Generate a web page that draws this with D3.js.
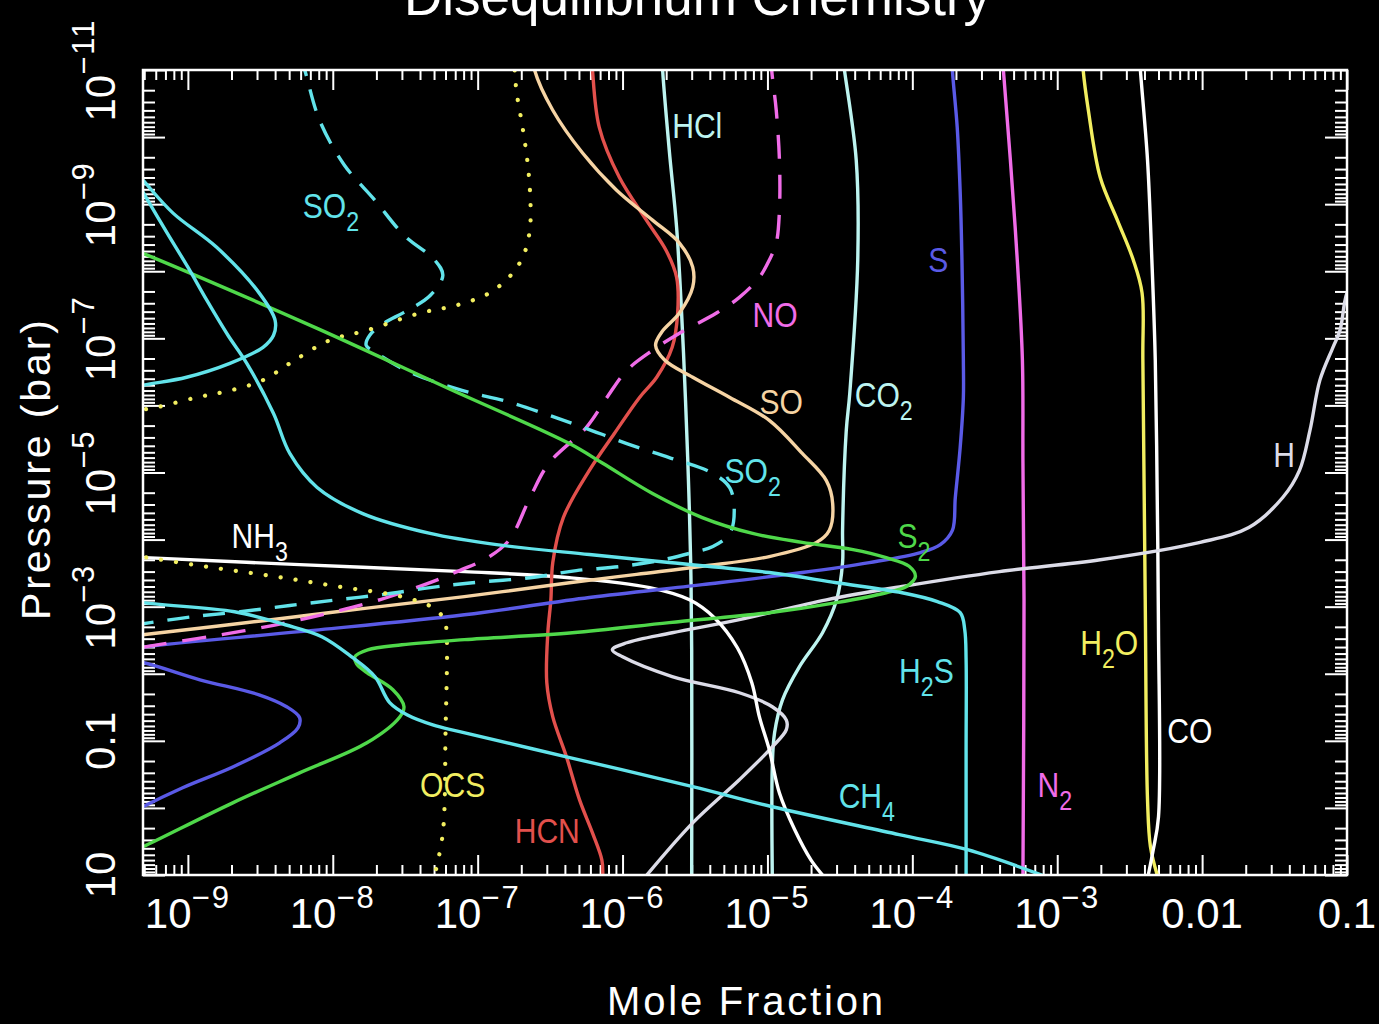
<!DOCTYPE html>
<html>
<head>
<meta charset="utf-8">
<title>Disequilibrium Chemistry</title>
<script src="https://cdn.jsdelivr.net/npm/d3@7"></script>
<style>
  html, body { margin: 0; padding: 0; background: #000; }
  #mydiv { width: 1379px; height: 1024px; }
</style>
</head>
<body>
<div id="mydiv"></div>
<script>
// each profile: [mole fraction, pressure (bar)], low pressure (top) first
var so2Dashed = [
  [5.9e-9, 6e-12], [6.4e-9, 1e-11], [8.1e-9, 5.6e-11], [1.2e-8, 2.6e-10], [1.95e-8, 8.7e-10],
  [3.1e-8, 2.9e-9], [5.05e-8, 6.8e-9], [5.75e-8, 1.15e-8], [4.7e-8, 2.3e-8], [3.1e-8, 4.1e-8],
  [2.3e-8, 5.8e-8], [1.8e-8, 9e-8], [1.7e-8, 1.27e-7], [1.95e-8, 1.6e-7], [3.4e-8, 3.2e-7],
  [7.9e-8, 6e-7], [1.58e-7, 8.7e-7], [3.1e-7, 1.4e-6], [5.3e-7, 2.1e-6], [1.07e-6, 3.7e-6],
  [2.1e-6, 6e-6], [4.2e-6, 1.03e-5], [5.5e-6, 1.7e-5], [5.9e-6, 3.7e-5], [5.5e-6, 8.1e-5],
  [4.2e-6, 1.27e-4], [3.05e-6, 1.56e-4], [1.9e-6, 2e-4], [1.0e-6, 2.5e-4], [4.8e-7, 2.9e-4],
  [2.3e-7, 3.7e-4], [9.2e-8, 4.4e-4], [4.7e-8, 5.2e-4], [2.2e-8, 6.6e-4], [1.07e-8, 7.9e-4],
  [5.05e-9, 9.6e-4], [2.3e-9, 1.19e-3], [1.08e-9, 1.41e-3], [5.5e-10, 1.73e-3], [3.4e-10, 2.06e-3]
];
var so2Solid = [
  [3.7e-10, 2.2e-10], [4.9e-10, 4.4e-10], [7.9e-10, 1.36e-9], [1.58e-9, 4.4e-9], [3.1e-9, 2.1e-8],
  [4e-9, 5.4e-8], [3.9e-9, 9e-8], [3.3e-9, 1.36e-7], [1.95e-9, 2.36e-7], [9.8e-10, 3.8e-7],
  [4.9e-10, 5e-7], [2.9e-10, 6.4e-7]
];
var h2s = [
  [4e-10, 3.1e-10], [4.9e-10, 6.6e-10], [7.2e-10, 2.7e-9], [1e-9, 8.7e-9], [1.35e-9, 2.7e-8],
  [1.89e-9, 9e-8], [2.55e-9, 2.36e-7], [3.9e-9, 1.32e-6], [5.05e-9, 5.2e-6], [7.8e-9, 1.67e-5],
  [1.61e-8, 4.1e-5], [4.7e-8, 8.1e-5], [1.35e-7, 1.19e-4], [5.9e-7, 1.67e-4], [2.1e-6, 2.2e-4],
  [1.03e-5, 3.1e-4], [3e-5, 4.4e-4], [8.5e-5, 6.2e-4], [1.49e-4, 8.4e-4], [2.14e-4, 1.23e-3],
  [2.3e-4, 2.2e-3], [2.35e-4, 6.2e-3], [2.35e-4, 0.14], [2.35e-4, 10]
];
var ch4 = [
  [2.9e-10, 7.1e-4], [4.9e-10, 8.7e-4], [2.1e-9, 1.19e-3], [4.7e-9, 1.86e-3], [8.4e-9, 2.8e-3],
  [1.35e-8, 5.6e-3], [1.95e-8, 1.1e-2], [2.47e-8, 2.7e-2], [3.25e-8, 4.1e-2], [4.9e-8, 5.8e-2],
  [7.5e-8, 7.3e-2], [4.1e-7, 0.173], [3.05e-6, 0.48], [1.08e-5, 0.96], [8.1e-5, 2.5],
  [2.4e-4, 4.2], [8e-4, 10.2]
];
var hcl = [
  [1.87e-6, 6e-12], [1.89e-6, 1e-11], [2.1e-6, 1.56e-10], [2.36e-6, 2.2e-9], [2.55e-6, 3.8e-8],
  [2.72e-6, 8.4e-7], [2.85e-6, 1.32e-5], [2.95e-6, 2e-4], [3e-6, 4.4e-3], [3e-6, 10]
];
var co2 = [
  [3.3e-5, 6e-12], [3.4e-5, 1e-11], [4.1e-5, 2.2e-10], [4.2e-5, 6.8e-9], [3.7e-5, 6.6e-7],
  [3.5e-5, 2.36e-6], [3.3e-5, 7.3e-5], [3.3e-5, 2.2e-4], [3e-5, 7.9e-4], [2.4e-5, 2.45e-3],
  [1.66e-5, 7.9e-3], [1.27e-5, 2.45e-2], [1.12e-5, 7.6e-2], [1.08e-5, 0.245], [1.08e-5, 10]
];
var hcn = [
  [6.1e-7, 6e-12], [6.2e-7, 1e-11], [6.9e-7, 7.1e-11], [9.5e-7, 3.98e-10], [1.46e-6, 1.73e-9],
  [2.0e-6, 4.9e-9], [2.36e-6, 1.23e-8], [2.4e-6, 4.2e-8], [2.2e-6, 1.36e-7], [1.72e-6, 3.8e-7],
  [1.31e-6, 7.6e-7], [8.8e-7, 2.6e-6], [5.9e-7, 9.3e-6], [3.9e-7, 4.7e-5], [3.3e-7, 2.2e-4],
  [3.2e-7, 7.9e-4], [3.05e-7, 2.45e-3], [3e-7, 1.36e-2], [3.3e-7, 4.4e-2], [4.1e-7, 0.173],
  [5.05e-7, 0.76], [6.2e-7, 2.36], [7.2e-7, 6.0], [7.3e-7, 10.2]
];
var so = [
  [2.4e-7, 6e-12], [2.47e-7, 1e-11], [3.3e-7, 3.98e-11], [5.3e-7, 1.73e-10], [9.1e-7, 6.2e-10],
  [1.61e-6, 1.73e-9], [2.47e-6, 3.8e-9], [3.05e-6, 8.7e-9], [3.05e-6, 1.73e-8], [2.47e-6, 4.2e-8],
  [1.86e-6, 8.1e-8], [1.69e-6, 1.27e-7], [1.95e-6, 2.1e-7], [3.05e-6, 3.8e-7], [5.5e-6, 7.6e-7],
  [1.03e-5, 1.67e-6], [1.74e-5, 5.2e-6], [2.55e-5, 1.32e-5], [2.82e-5, 2.9e-5], [2.67e-5, 7.3e-5],
  [2.18e-5, 1.1e-4], [1.03e-5, 1.79e-4], [3.55e-6, 2.5e-4], [1.25e-6, 3.3e-4], [4.3e-7, 4.4e-4],
  [8.1e-8, 7.1e-4], [1.61e-8, 1.07e-3], [3.3e-9, 1.62e-3], [5.05e-10, 2.6e-3], [2.9e-10, 3e-3]
];
var no = [
  [1.06e-5, 6e-12], [1.07e-5, 1e-11], [1.15e-5, 3.98e-11], [1.21e-5, 2.2e-10], [1.21e-5, 1.23e-9],
  [1.15e-5, 3.8e-9], [1.03e-5, 6.8e-9], [8.8e-6, 1.23e-8], [6.4e-6, 2.45e-8], [4.45e-6, 4.2e-8],
  [2.47e-6, 8.4e-8], [1.61e-6, 1.51e-7], [1.07e-6, 3e-7], [7.8e-7, 7.6e-7], [5.65e-7, 2.1e-6],
  [3.1e-7, 7.3e-6], [2.3e-7, 2.36e-5], [1.66e-7, 1e-4], [1.21e-7, 1.79e-4], [7.5e-8, 2.9e-4],
  [4.3e-8, 4.7e-4], [2.1e-8, 7.9e-4], [1.03e-8, 1.19e-3], [5.2e-9, 1.67e-3], [2.47e-9, 2.28e-3],
  [5.05e-10, 3.98e-3], [2.9e-10, 4.9e-3]
];
var s = [
  [1.88e-4, 6e-12], [1.89e-4, 1e-11], [2.04e-4, 7.1e-11], [2.14e-4, 6.8e-10], [2.2e-4, 6.8e-9],
  [2.25e-4, 2.1e-7], [2.25e-4, 7.6e-7], [2.14e-4, 4.2e-6], [1.98e-4, 2.36e-5], [1.89e-4, 7.3e-5],
  [1.56e-4, 1.19e-4], [1.14e-4, 1.56e-4], [5.05e-5, 2.2e-4], [1.74e-5, 3.1e-4], [3.55e-6, 4.7e-4],
  [5.9e-7, 7.3e-4], [8.1e-8, 1.32e-3], [5.9e-9, 2.36e-3], [5.05e-10, 3.98e-3], [2.5e-10, 5.2e-3],
  [4.9e-10, 6.8e-3], [1.21e-9, 1.23e-2], [3.1e-9, 2.06e-2], [4.8e-9, 3.1e-2], [5.9e-9, 4.5e-2],
  [5.75e-9, 6.4e-2], [4.3e-9, 0.107], [2.04e-9, 0.245], [9.2e-10, 0.5], [4.9e-10, 0.96],
  [2.9e-10, 1.79]
];
var s2 = [
  [2.9e-10, 3.45e-9], [4.9e-10, 5.4e-9], [7.8e-9, 7.1e-8], [6.4e-8, 5.7e-7], [4.3e-7, 3.7e-6],
  [7.3e-7, 7.3e-6], [1.61e-6, 2.06e-5], [3.55e-6, 4.7e-5], [7.9e-6, 8.1e-5], [1.74e-5, 1.1e-4],
  [3.9e-5, 1.41e-4], [6.6e-5, 1.86e-4], [9.5e-5, 2.5e-4], [1.05e-4, 3.55e-4], [9.1e-5, 5e-4],
  [6.6e-5, 6.2e-4], [3e-5, 8.7e-4], [1.03e-5, 1.23e-3], [2.1e-6, 1.73e-3], [4.5e-7, 2.45e-3],
  [8.1e-8, 3.1e-3], [3e-8, 3.7e-3], [1.74e-8, 4.4e-3], [1.42e-8, 5.6e-3], [1.46e-8, 7.1e-3],
  [1.72e-8, 9.6e-3], [2.6e-8, 1.73e-2], [3.1e-8, 3.1e-2], [2.9e-8, 4.4e-2], [1.72e-8, 0.107],
  [5.9e-9, 0.3], [2.04e-9, 0.84], [4.9e-10, 3.8], [2.9e-10, 6.4]
];
var ocs = [
  [1.78e-7, 6e-12], [1.8e-7, 1e-11], [1.86e-7, 2.2e-11], [2.04e-7, 7.1e-11], [2.2e-7, 2.2e-10],
  [2.3e-7, 6.8e-10], [2.3e-7, 2.2e-9], [2.1e-7, 5.4e-9], [1.74e-7, 1.07e-8], [1.21e-7, 2.1e-8],
  [7.2e-8, 3.2e-8], [4e-8, 4.2e-8], [1.72e-8, 7.6e-8], [9.5e-9, 1.07e-7], [5.05e-9, 2.36e-7],
  [3.3e-9, 4.2e-7], [1.95e-9, 6e-7], [1.15e-9, 7.6e-7], [5.7e-10, 1.1e-6], [2.9e-10, 1.41e-6],
  [1.8e-10, 1.3e-5], [2.9e-10, 1.5e-4], [5.3e-10, 1.86e-4], [1.46e-9, 2.6e-4], [4e-9, 3.55e-4],
  [1.08e-8, 5e-4], [3e-8, 7.1e-4], [4.9e-8, 1.03e-3], [5.9e-8, 1.56e-3], [6.1e-8, 2.45e-3],
  [6e-8, 7.6e-2], [5.75e-8, 2.36], [5.05e-8, 10]
];
var nh3 = [
  [2.9e-10, 1.73e-4], [5.05e-10, 1.86e-4], [5.9e-9, 2.36e-4], [8.1e-8, 3e-4], [4.3e-7, 3.7e-4],
  [1.54e-6, 5.2e-4], [2.9e-6, 7.9e-4], [4.3e-6, 1.46e-3], [6.2e-6, 4.1e-3], [7.8e-6, 1.36e-2],
  [8.8e-6, 4.4e-2], [1.03e-5, 0.136], [1.21e-5, 0.6], [1.54e-5, 2.1], [2.0e-5, 6.0], [2.4e-5, 10]
];
var h = [
  [0.123, 9.6e-9], [0.1, 2.1e-8], [8.95e-2, 7.6e-8], [8e-2, 1.36e-7], [6.5e-2, 4.2e-7],
  [5.55e-2, 2.36e-6], [4.7e-2, 9.3e-6], [3.6e-2, 2.36e-5], [2.1e-2, 6.6e-5], [9.7e-3, 1.1e-4],
  [1.98e-3, 2e-4], [4e-4, 3e-4], [8.5e-5, 5e-4], [2.55e-5, 7.9e-4], [6.4e-6, 1.56e-3],
  [2.2e-6, 2.45e-3], [1.07e-6, 3.45e-3], [8.5e-7, 4.4e-3], [1e-6, 5.6e-3], [2.2e-6, 1.1e-2],
  [6.4e-6, 1.92e-2], [1.08e-5, 3.1e-2], [1.35e-5, 4.9e-2], [1.35e-5, 6.8e-2], [1.08e-5, 0.123],
  [6.4e-6, 0.38], [3.05e-6, 1.67], [1.46e-6, 10.2]
];
var n2 = [
  [4.2e-4, 6e-12], [4.25e-4, 1e-11], [4.75e-4, 2.2e-10], [5.3e-4, 6.8e-9], [5.75e-4, 2.1e-7],
  [5.8e-4, 7.3e-6], [5.9e-4, 7.9e-4], [5.8e-4, 10]
];
var h2o = [
  [1.49e-3, 6e-12], [1.51e-3, 1e-11], [1.64e-3, 3.98e-11], [1.98e-3, 3.98e-10], [2.6e-3, 1.73e-9],
  [3.35e-3, 6.8e-9], [3.85e-3, 2.1e-8], [3.9e-3, 2.1e-7], [4.05e-3, 7.9e-4], [4.2e-3, 0.76],
  [4.4e-3, 3.8], [4.9e-3, 10]
];
var co = [
  [3.7e-3, 6e-12], [3.75e-3, 1e-11], [4.2e-3, 2.2e-10], [4.5e-3, 6.8e-9], [4.75e-3, 2.1e-7],
  [4.9e-3, 2.36e-5], [5e-3, 2.2e-3], [5e-3, 1.36], [4.6e-3, 4.2], [4.25e-3, 10]
];

// species labels and where they sit (mole fraction, pressure of the baseline start)
var labelNames = ["SO2", "SO2", "HCl", "S", "NO", "SO", "CO2", "H", "NH3", "S2",
                  "H2S", "H2O", "CO", "N2", "OCS", "HCN", "CH4"];
var labelAt = [[6.2e-9, 1.62e-9], [5.05e-6, 1.41e-5], [2.2e-6, 1.03e-10], [1.29e-4, 1.03e-8],
               [7.9e-6, 6.8e-8], [8.8e-6, 1.32e-6], [4e-5, 1.07e-6], [3.1e-2, 8.4e-6],
               [2.0e-9, 1.32e-4], [7.9e-5, 1.32e-4], [8.1e-5, 1.36e-2], [1.44e-3, 5.2e-3],
               [5.75e-3, 0.107], [7.3e-4, 0.68], [4e-8, 0.68], [1.8e-7, 3.3], [3.1e-5, 1.0]];

var xLabelVals = [1e-9, 1e-8, 1e-7, 1e-6, 1e-5, 1e-4, 1e-3, 0.01, 0.1];
var yLabelVals = [10, 0.1, 1e-3, 1e-5, 1e-7, 1e-9, 1e-11];

var Colors = {
  cyan: "#62e3ea",
  paleCyan: "#bdf4f0",
  red: "#e2504c",
  peach: "#f6d4a4",
  pink: "#f06ce8",
  blue: "#5a5ae6",
  green: "#4fd84a",
  yellow: "#f2ee60",
  white: "#ffffff",
  grey: "#dcdce8"
};

var curves = [
  {data: h2o, color: Colors.yellow},
  {data: co, color: Colors.white},
  {data: n2, color: Colors.pink},
  {data: co2, color: Colors.paleCyan},
  {data: hcl, color: Colors.paleCyan},
  {data: h, color: Colors.grey},
  {data: nh3, color: Colors.white},
  {data: hcn, color: Colors.red},
  {data: so, color: Colors.peach},
  {data: s, color: Colors.blue},
  {data: no, color: Colors.pink, dash: "24,16"},
  {data: so2Dashed, color: Colors.cyan, dash: "22,14"},
  {data: ocs, color: Colors.yellow, dash: "0.1,15", cap: "round", width: 4.2},
  {data: s2, color: Colors.green},
  {data: so2Solid, color: Colors.cyan},
  {data: ch4, color: Colors.cyan},
  {data: h2s, color: Colors.cyan}
];
var labelColors = [Colors.cyan, Colors.cyan, Colors.paleCyan, Colors.blue, Colors.pink, Colors.peach,
                   Colors.paleCyan, Colors.grey, Colors.white, Colors.green, Colors.cyan, Colors.yellow,
                   Colors.white, Colors.pink, Colors.yellow, Colors.red, Colors.cyan];

var W = 1379, H = 1024;
var plot = {left: 143, right: 1347, top: 70, bottom: 875};
var font = "'Liberation Sans', Arial, sans-serif";

var svg = d3.select("#mydiv").append("svg")
  .attr("width", W).attr("height", H)
  .style("background-color", "black");

var x = d3.scaleLog().domain([4.9e-10, 0.1]).range([plot.left, plot.right]);
var y = d3.scaleLog().domain([10, 1e-11]).range([plot.bottom, plot.top]);

// IDL style log ticks, majors at each decade
function logTicks(lo, hi) {
  var major = [], minor = [];
  for (var e = Math.floor(Math.log10(lo)); e <= Math.ceil(Math.log10(hi)); e++) {
    for (var m = 1; m < 10; m++) {
      var v = m * Math.pow(10, e);
      if (v < lo * 0.999 || v > hi * 1.001) continue;
      if (m == 1) major.push(v); else minor.push(v);
    }
  }
  return {major: major, minor: minor};
}
var xt = logTicks(4.9e-10, 0.1);
var yt = logTicks(1e-11, 10);

function addAxis(axisFn, scale, vals, size, transform) {
  svg.append("g")
    .attr("transform", transform)
    .call(axisFn(scale).tickValues(vals).tickSize(size).tickFormat(""))
    .call(function(g) { g.select(".domain").remove(); })
    .selectAll("line").attr("stroke", "#fff").attr("stroke-width", 2);
}
addAxis(d3.axisBottom, x, xt.minor, -10, "translate(0," + plot.bottom + ")");
addAxis(d3.axisBottom, x, xt.major, -20, "translate(0," + plot.bottom + ")");
addAxis(d3.axisTop, x, xt.minor, -10, "translate(0," + plot.top + ")");
addAxis(d3.axisTop, x, xt.major, -20, "translate(0," + plot.top + ")");
addAxis(d3.axisLeft, y, yt.minor, -12, "translate(" + plot.left + ",0)");
addAxis(d3.axisLeft, y, yt.major, -22, "translate(" + plot.left + ",0)");
addAxis(d3.axisRight, y, yt.minor, -12, "translate(" + plot.right + ",0)");
addAxis(d3.axisRight, y, yt.major, -22, "translate(" + plot.right + ",0)");

svg.append("defs").append("clipPath").attr("id", "plotclip")
  .append("rect")
  .attr("x", plot.left).attr("y", plot.top)
  .attr("width", plot.right - plot.left).attr("height", plot.bottom - plot.top);

var line = d3.line()
  .x(function(d) { return x(d[0]); })
  .y(function(d) { return y(d[1]); })
  .curve(d3.curveCatmullRom.alpha(0.5));

svg.append("g").attr("clip-path", "url(#plotclip)")
  .selectAll("path")
  .data(curves)
  .enter().append("path")
  .attr("d", function(d) { return line(d.data); })
  .attr("fill", "none")
  .attr("stroke", function(d) { return d.color; })
  .attr("stroke-width", function(d) { return d.width || 3.4; })
  .attr("stroke-dasharray", function(d) { return d.dash || null; })
  .attr("stroke-linecap", function(d) { return d.cap || "butt"; });

// frame
svg.append("rect")
  .attr("x", plot.left).attr("y", plot.top)
  .attr("width", plot.right - plot.left).attr("height", plot.bottom - plot.top)
  .attr("fill", "none").attr("stroke", "#fff").attr("stroke-width", 2.5);

// tick labels: 10^n with superscript, or plain for 0.01 / 0.1 / 10
function tickText(sel, v, supShift) {
  var e = Math.round(Math.log10(v));
  if (v == 0.01 || v == 0.1 || v == 10) {
    sel.text(String(v));
    return;
  }
  sel.append("tspan").text("10");
  sel.append("tspan").attr("dy", supShift).attr("font-size", 31)
    .attr("letter-spacing", 2).text("\u2212" + Math.abs(e));
}

xLabelVals.forEach(function(v) {
  var t = svg.append("text")
    .attr("x", x(v)).attr("y", 928)
    .attr("text-anchor", "middle")
    .attr("fill", "#fff")
    .attr("font-family", font).attr("font-size", 42);
  tickText(t, v, -20);
});

yLabelVals.forEach(function(v) {
  var t = svg.append("text")
    .attr("transform", "translate(115," + y(v) + ") rotate(-90)")
    .attr("text-anchor", "middle")
    .attr("fill", "#fff")
    .attr("font-family", font).attr("font-size", 42);
  tickText(t, v, -21);
});

// titles (the main title runs off the top edge, as in the original)
svg.append("text")
  .attr("x", 697).attr("y", 15)
  .attr("text-anchor", "middle")
  .attr("fill", "#fff").attr("font-family", font).attr("font-size", 53)
  .text("Disequilibrium Chemistry");

svg.append("text")
  .attr("x", 745).attr("y", 1015)
  .attr("text-anchor", "middle")
  .attr("fill", "#fff").attr("font-family", font).attr("font-size", 40)
  .attr("textLength", 276).attr("lengthAdjust", "spacing")
  .text("Mole Fraction");

svg.append("text")
  .attr("transform", "translate(50,470) rotate(-90)")
  .attr("text-anchor", "middle")
  .attr("fill", "#fff").attr("font-family", font).attr("font-size", 41)
  .attr("textLength", 300).attr("lengthAdjust", "spacing")
  .text("Pressure (bar)");

// species labels, digits become subscripts; squeezed a bit like the plot font
labelNames.forEach(function(name, i) {
  var t = svg.append("text")
    .attr("transform", "translate(" + x(labelAt[i][0]) + "," + y(labelAt[i][1]) + ") scale(0.86,1)")
    .attr("fill", labelColors[i])
    .attr("font-family", font).attr("font-size", 35);
  var parts = name.match(/\d+|\D+/g);
  var down = false;
  parts.forEach(function(p) {
    var isNum = /\d/.test(p);
    var ts = t.append("tspan").text(p);
    if (isNum) { ts.attr("dy", 13).attr("font-size", 27); down = true; }
    else if (down) { ts.attr("dy", -13); down = false; }
  });
});
</script>
</body>
</html>
